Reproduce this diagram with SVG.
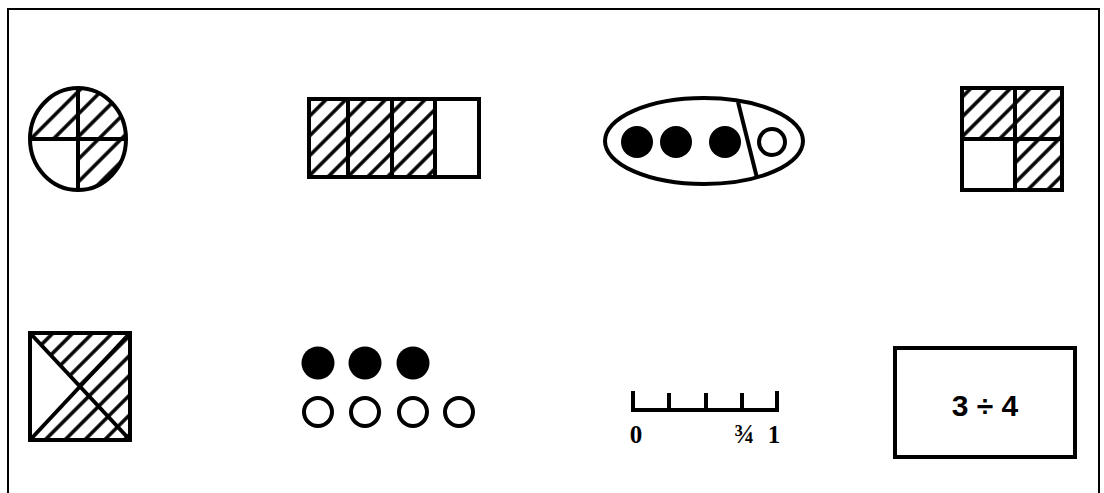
<svg xmlns="http://www.w3.org/2000/svg" width="1104" height="493" viewBox="0 0 1104 493">
<defs>
<pattern id="hatch" patternUnits="userSpaceOnUse" width="14" height="14" patternTransform="rotate(45)">
<line x1="7" y1="0" x2="7" y2="14" stroke="#000" stroke-width="3.5"/>
</pattern>
<pattern id="hatchw" patternUnits="userSpaceOnUse" width="16" height="16" patternTransform="rotate(45)">
<line x1="8" y1="0" x2="8" y2="16" stroke="#000" stroke-width="3.5"/>
</pattern>
</defs>
<style>
.o{fill:none;stroke:#000;stroke-width:4;stroke-linejoin:miter}
.h{fill:url(#hatch);stroke:none}
.hw{fill:url(#hatchw);stroke:none}
.dot{fill:#000}
.ring{fill:#fff;stroke:#000;stroke-width:4}
.lbl{font-family:"Liberation Serif",serif;font-weight:bold;fill:#000}
.eq{font-family:"Liberation Sans",sans-serif;font-weight:bold;fill:#000}
</style>
<rect width="1104" height="493" fill="#fff"/>
<path d="M8 495 V9 H1099 V495" fill="none" stroke="#000" stroke-width="2"/>

<g id="circle-quarters">
<path class="hw" d="M78 139 H30 A48 51 0 0 1 78 88 Z"/>
<path class="hw" d="M78 139 V88 A48 51 0 0 1 126 139 Z"/>
<path class="hw" d="M78 139 H126 A48 51 0 0 1 78 190 Z"/>
<ellipse class="o" cx="78" cy="139" rx="48" ry="51"/>
<line class="o" x1="78" y1="88" x2="78" y2="190"/>
<line class="o" x1="30" y1="139" x2="126" y2="139"/>
</g>

<g id="bar-quarters">
<rect class="h" x="309" y="99" width="126" height="78"/>
<rect class="o" x="309" y="99" width="170" height="78"/>
<line class="o" x1="348" y1="99" x2="348" y2="177"/>
<line class="o" x1="392" y1="99" x2="392" y2="177"/>
<line class="o" x1="435" y1="99" x2="435" y2="177"/>
</g>

<g id="oval-set">
<ellipse class="o" cx="704" cy="141" rx="99" ry="43"/>
<line class="o" x1="738" y1="102" x2="757" y2="178"/>
<circle class="dot" cx="637" cy="142" r="16"/>
<circle class="dot" cx="676" cy="142" r="16"/>
<circle class="dot" cx="725" cy="142" r="16"/>
<circle class="ring" cx="772" cy="142" r="13"/>
</g>

<g id="square-quarters">
<rect class="h" x="962" y="88" width="100" height="51"/>
<rect class="h" x="1015" y="139" width="47" height="51"/>
<rect class="o" x="962" y="88" width="100" height="102"/>
<line class="o" x1="1015" y1="88" x2="1015" y2="190"/>
<line class="o" x1="962" y1="139" x2="1062" y2="139"/>
</g>

<g id="square-triangles">
<polygon class="h" points="30,333 130,333 80,386.5"/>
<polygon class="h" points="130,333 130,440 80,386.5"/>
<polygon class="h" points="30,440 130,440 80,386.5"/>
<rect class="o" x="30" y="333" width="100" height="107"/>
<line class="o" x1="30" y1="333" x2="130" y2="440"/>
<line class="o" x1="130" y1="333" x2="30" y2="440"/>
</g>

<g id="dots-set">
<circle class="dot" cx="318" cy="363" r="16.5"/>
<circle class="dot" cx="365" cy="363" r="16.5"/>
<circle class="dot" cx="413" cy="363" r="16.5"/>
<circle class="ring" cx="318" cy="412" r="14"/>
<circle class="ring" cx="365" cy="412" r="14"/>
<circle class="ring" cx="413" cy="412" r="14"/>
<circle class="ring" cx="459" cy="412" r="14"/>
</g>

<g id="number-line">
<path class="o" d="M633 391 V410 H777 V391 M669 393 V410 M706 393 V410 M742 393 V410"/>
<text class="lbl" x="636" y="443" font-size="25" text-anchor="middle">0</text>
<text class="lbl" x="744" y="443" font-size="27" text-anchor="middle">¾</text>
<text class="lbl" x="774" y="443" font-size="25" text-anchor="middle">1</text>
</g>

<g id="division-box">
<rect class="o" x="895" y="348" width="180" height="109"/>
<text class="eq" x="985" y="416" font-size="30" text-anchor="middle">3 ÷ 4</text>
</g>
</svg>
